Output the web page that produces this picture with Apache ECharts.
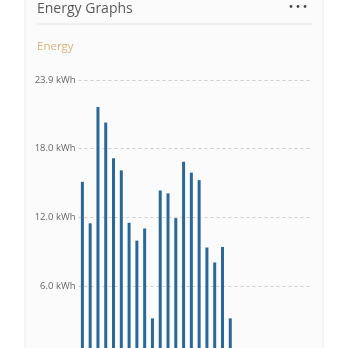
<!DOCTYPE html>
<html>
<head>
<meta charset="utf-8">
<script src="https://cdn.jsdelivr.net/npm/echarts@6/dist/echarts.min.js"></script>
<style>
html,body{margin:0;padding:0;background:#ffffff;width:348px;height:348px;overflow:hidden;}
#c{width:348px;height:390px;}
</style>
</head>
<body>
<div id="c"></div>
<script>
const days = ['1','2','3','4','5','6','7','8','9','10','11','12','13','14','15','16','17','18','19','20','21','22','23','24','25','26','27','28','29','30'];
const energy = [15.1, 11.5, 21.6, 20.25, 17.15, 16.1, 11.55, 10.0, 11.05, 3.25, 14.35, 14.1, 11.95, 16.85, 15.9, 15.25, 9.4, 8.1, 9.45, 3.25, null, null, null, null, null, null, null, null, null, null];
const yMax = 23.9;
const yStep = 6;

const chart = echarts.init(document.getElementById('c'), null, {renderer: 'canvas'});
const font = '"Open Sans", "Noto Sans", sans-serif';
chart.setOption({
  animation: false,
  graphic: [
    {type: 'rect', z: -10, shape: {x: 25, y: -5, width: 298, height: 400}, style: {fill: '#fbfbfb', stroke: '#ececec', lineWidth: 1}},
    {type: 'text', left: 37, top: 2.5, style: {text: 'Energy Graphs', font: '14px ' + font, fill: '#5a5a5a'}},
    {type: 'circle', shape: {cx: 291, cy: 6.5, r: 1.4}, style: {fill: '#4a4a4a'}},
    {type: 'circle', shape: {cx: 298, cy: 6.5, r: 1.4}, style: {fill: '#4a4a4a'}},
    {type: 'circle', shape: {cx: 305, cy: 6.5, r: 1.4}, style: {fill: '#4a4a4a'}},
    {type: 'rect', shape: {x: 37, y: 23.5, width: 275, height: 1}, style: {fill: '#e6e6e6'}},
    {type: 'text', left: 37, top: 41, style: {text: 'Energy', font: '11.5px ' + font, fill: '#d7b27e'}}
  ],
  grid: {left: 78.5, right: 36, top: 80.5, height: 275.3, containLabel: false},
  xAxis: {
    type: 'category', data: days,
    axisLine: {show: false}, axisTick: {show: false}, axisLabel: {show: false}
  },
  yAxis: {
    type: 'value', min: 0, max: yMax, interval: yStep,
    axisLine: {show: false}, axisTick: {show: false},
    axisLabel: {formatter: v => v.toFixed(1) + ' kWh', fontSize: 9.5, color: '#666', fontFamily: font, margin: 3},
    splitLine: {lineStyle: {type: [3, 3], color: '#cfcfcf', width: 1}}
  },
  series: [{
    type: 'bar', data: energy, barWidth: 3,
    itemStyle: {color: '#2b6898'}
  }]
});
</script>
</body>
</html>
